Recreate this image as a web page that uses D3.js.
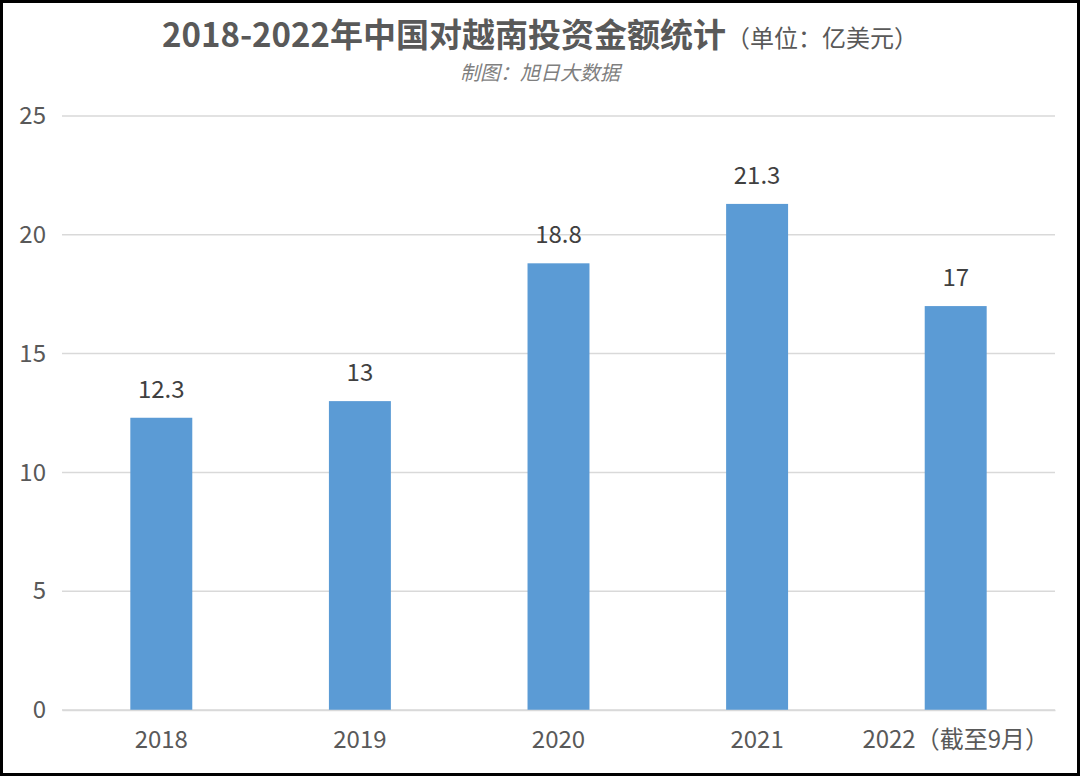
<!DOCTYPE html>
<html>
<head>
<meta charset="utf-8">
<script src="https://cdn.jsdelivr.net/npm/d3@7"></script>
<style>
  body { margin: 0; background: #fff; }
  text { font-family: "Noto Sans CJK SC", "Noto Sans", sans-serif; }
</style>
</head>
<body>
<div id="chart"></div>
<script>
const years = ["2018", "2019", "2020", "2021", "2022（截至9月）"]
const amounts = [12.3, 13, 18.8, 21.3, 17]
const yTicks = [0, 5, 10, 15, 20, 25]

const width = 1080
const height = 776
const margin = {top: 116, right: 25, bottom: 66, left: 62}

const svg = d3.select('#chart')
  .append('svg')
  .attr('width', width)
  .attr('height', height)

svg.append('rect')
  .attr('x', 1.5).attr('y', 1.5)
  .attr('width', width - 3).attr('height', height - 3)
  .attr('fill', '#fff')
  .attr('stroke', '#000')
  .attr('stroke-width', 3)

const x = d3.scaleBand()
  .domain(years)
  .range([margin.left, width - margin.right])
  .paddingInner(0.688)
  .paddingOuter(0.344)

const y = d3.scaleLinear()
  .domain([0, 25])
  .range([height - margin.bottom, margin.top])

// grid
svg.append('g')
  .selectAll('line')
  .data(yTicks)
  .join('line')
  .attr('x1', margin.left)
  .attr('x2', width - margin.right)
  .attr('y1', d => y(d))
  .attr('y2', d => y(d))
  .attr('stroke', '#d9d9d9')
  .attr('stroke-width', 1.5)

// y axis labels
const yAxis = d3.axisLeft(y).tickValues(yTicks).tickSize(0).tickPadding(16)
const yAxisG = svg.append('g')
  .attr('transform', `translate(${margin.left},0)`)
  .call(yAxis)
yAxisG.select('.domain').remove()
yAxisG.selectAll('text')
  .attr('font-size', 24)
  .attr('fill', '#595959')
  .style('font-family', '"Noto Sans CJK SC", sans-serif')

// bars
svg.append('g')
  .selectAll('rect')
  .data(amounts)
  .join('rect')
  .attr('x', (d, i) => x(years[i]))
  .attr('y', d => y(d))
  .attr('width', x.bandwidth())
  .attr('height', d => y(0) - y(d))
  .attr('fill', '#5b9bd5')

// value labels
svg.append('g')
  .selectAll('text')
  .data(amounts)
  .join('text')
  .attr('x', (d, i) => x(years[i]) + x.bandwidth() / 2)
  .attr('y', d => y(d) - 20)
  .attr('text-anchor', 'middle')
  .attr('font-size', 24)
  .attr('fill', '#404040')
  .text(d => d)

// x axis
const xAxis = d3.axisBottom(x).tickSize(0).tickPadding(21)
const xAxisG = svg.append('g')
  .attr('transform', `translate(0,${y(0)})`)
  .call(xAxis)
xAxisG.select('.domain').attr('stroke', '#d9d9d9').attr('stroke-width', 1.5)
xAxisG.selectAll('text')
  .attr('font-size', 24)
  .attr('fill', '#595959')
  .style('font-family', '"Noto Sans CJK SC", sans-serif')

// title
const title = svg.append('text')
  .attr('x', width / 2)
  .attr('y', 47)
  .attr('text-anchor', 'middle')
  .attr('fill', '#595959')
title.append('tspan')
  .attr('font-size', 33)
  .attr('font-weight', 'bold')
  .text('2018-2022年中国对越南投资金额统计')
title.append('tspan')
  .attr('font-size', 24)
  .text('（单位：亿美元）')

svg.append('text')
  .attr('x', width / 2)
  .attr('y', 80)
  .attr('text-anchor', 'middle')
  .attr('font-size', 20)
  .attr('font-style', 'italic')
  .attr('fill', '#7f7f7f')
  .text('制图：旭日大数据')
</script>
</body>
</html>
